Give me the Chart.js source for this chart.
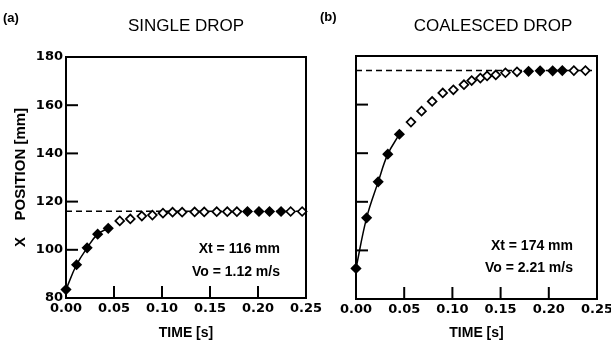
<!DOCTYPE html>
<html>
<head>
<meta charset="utf-8">
<script src="https://cdn.jsdelivr.net/npm/chart.js@4.4.1/dist/chart.umd.min.js"></script>
<style>
  html, body { margin: 0; padding: 0; background: #fff; }
  body { width: 611px; height: 342px; position: relative; overflow: hidden; font-family: "Liberation Sans", Arial, sans-serif; color: #000; }
  .cv { position: absolute; top: 0; }
  .txt { position: absolute; white-space: nowrap; line-height: 1; }
  .panel { font-weight: bold; font-size: 13px; }
  .title { font-size: 17px; transform: translateX(-50%); }
  .note { font-weight: bold; font-size: 14px; text-align: right; }
</style>
</head>
<body>
<div class="cv" style="left:0;width:330px;height:342px;"><canvas id="cA"></canvas></div>
<div class="cv" style="left:312px;width:299px;height:342px;"><canvas id="cB"></canvas></div>

<div class="txt panel" style="left:3px;top:11px;">(a)</div>
<div class="txt title" style="left:186px;top:17px;">SINGLE DROP</div>
<div class="txt panel" style="left:320px;top:10px;">(b)</div>
<div class="txt title" style="left:493px;top:17px;">COALESCED DROP</div>

<div class="txt note" style="right:331px;top:241px;">Xt = 116 mm</div>
<div class="txt note" style="right:331px;top:264px;">Vo = 1.12 m/s</div>
<div class="txt note" style="right:38px;top:238px;">Xt = 174 mm</div>
<div class="txt note" style="right:38px;top:260px;">Vo = 2.21 m/s</div>

<script>
// ---- data ----
const xTicks = [0, 0.05, 0.10, 0.15, 0.20, 0.25];
const yTicks = [80, 100, 120, 140, 160, 180];

// (a) single drop
const timeA = [0, 0.011, 0.022, 0.033, 0.044, 0.056, 0.067, 0.079, 0.090, 0.101, 0.111, 0.121,
               0.134, 0.144, 0.157, 0.168, 0.178, 0.189, 0.201, 0.212, 0.224, 0.234, 0.246];
const posA  = [83.5, 93.8, 100.8, 106.5, 108.9, 112.0, 112.8, 114.0, 114.4, 115.2, 115.6, 115.6,
               115.7, 115.7, 115.8, 115.8, 115.8, 115.9, 115.9, 115.9, 115.9, 115.9, 115.9];
const xtA = 116;   // terminal position [mm]

// (b) coalesced drop
const timeB = [0, 0.011, 0.023, 0.033, 0.045, 0.057, 0.068, 0.079, 0.090, 0.101, 0.112, 0.120,
               0.129, 0.136, 0.145, 0.155, 0.167, 0.179, 0.191, 0.204, 0.214, 0.226, 0.238];
const posB  = [92.6, 113.4, 128.2, 139.6, 147.8, 152.8, 157.3, 161.3, 164.8, 166.1, 168.2, 169.9,
               170.9, 171.8, 172.2, 173.1, 173.5, 173.7, 173.9, 173.9, 174.0, 174.0, 174.0];
const xtB = 174;

// ---- styling helpers ----
const FILLED = (i) => (i <= 4) || (i >= 17 && i <= 20);
const FONT = '"Liberation Sans", Arial, sans-serif';
const TICKFONT = '"DejaVu Sans", "Liberation Sans", sans-serif';

const frame = {
  id: 'frame',
  afterDatasetsDraw(chart) {
    const { ctx, chartArea: a, scales } = chart;
    ctx.save();
    ctx.strokeStyle = '#000';
    ctx.lineWidth = 2;
    ctx.strokeRect(a.left, a.top, a.right - a.left, a.bottom - a.top);
    const len = 12;
    scales.y.ticks.forEach(t => {
      if (t.value <= scales.y.min || t.value >= scales.y.max) return;
      const py = scales.y.getPixelForValue(t.value);
      ctx.beginPath(); ctx.moveTo(a.left, py); ctx.lineTo(a.left + len, py); ctx.stroke();
    });
    scales.x.ticks.forEach(t => {
      if (t.value <= scales.x.min + 1e-9 || t.value >= scales.x.max - 1e-9) return;
      const px = scales.x.getPixelForValue(t.value);
      ctx.beginPath(); ctx.moveTo(px, a.bottom); ctx.lineTo(px, a.bottom - len); ctx.stroke();
    });
    ctx.restore();
  }
};

function makeChart(id, time, pos, xt, opts) {
  const pts = time.map((t, i) => ({ x: t, y: pos[i] }));
  const fitPts = pts.filter((p, i) => i <= 4);
  return new Chart(document.getElementById(id), {
    type: 'scatter',
    data: {
      datasets: [
        {
          data: pts,
          order: 0,
          pointStyle: 'rectRot',
          pointRadius: 4.4,
          pointBorderWidth: 1.7,
          pointBorderColor: '#000',
          pointBackgroundColor: ctx => FILLED(ctx.dataIndex) ? '#000' : '#fff',
          showLine: false,
          clip: false
        },
        {
          data: fitPts,
          order: 1,
          showLine: true,
          borderColor: '#000',
          borderWidth: 1.5,
          tension: 0.4,
          pointRadius: 0
        },
        {
          data: [{ x: xTicks[0], y: xt }, { x: xTicks[xTicks.length - 1], y: xt }],
          order: 2,
          showLine: true,
          borderColor: '#000',
          borderWidth: 1.5,
          borderDash: [6, 4],
          pointRadius: 0
        }
      ]
    },
    options: {
      responsive: false,
      animation: false,
      devicePixelRatio: 1,
      layout: { padding: opts.padding },
      plugins: { legend: { display: false }, tooltip: { enabled: false }, title: { display: false } },
      scales: {
        x: {
          type: 'linear',
          min: xTicks[0], max: xTicks[xTicks.length - 1],
          afterBuildTicks: s => { s.ticks = xTicks.map(v => ({ value: v })); },
          grid: { display: false, drawTicks: false },
          border: { display: false },
          ticks: {
            padding: 3,
            color: '#000',
            font: { family: TICKFONT, size: 13, weight: 'bold' },
            maxRotation: 0,
            autoSkip: false,
            callback: v => Number(v).toFixed(2)
          },
          title: {
            display: true, text: 'TIME [s]', color: '#000',
            font: { family: FONT, size: 14, weight: 'bold' }, padding: 0
          },
          afterFit: s => { s.height = opts.xh; s.paddingLeft = 0; s.paddingRight = 0; }
        },
        y: {
          type: 'linear',
          min: yTicks[0], max: yTicks[yTicks.length - 1],
          afterBuildTicks: s => { s.ticks = yTicks.map(v => ({ value: v })); },
          grid: { display: false, drawTicks: false },
          border: { display: false },
          ticks: {
            display: opts.yLabels,
            padding: 3,
            color: '#000',
            font: { family: TICKFONT, size: 13, weight: 'bold' }
          },
          title: {
            display: opts.yLabels, text: 'X    POSITION [mm]', color: '#000',
            font: { family: FONT, size: 15, weight: 'bold' }, padding: { top: 12, bottom: 0 }
          },
          afterFit: s => { s.width = opts.yw; s.paddingTop = 0; s.paddingBottom = 0; }
        }
      }
    },
    plugins: [frame]
  });
}

const cA = document.getElementById('cA'); cA.width = 330; cA.height = 342;
const cB = document.getElementById('cB'); cB.width = 299; cB.height = 342;

makeChart('cA', timeA, posA, xtA, { padding: { left: 0, top: 57, right: 24, bottom: 0 }, xh: 44, yw: 66, yLabels: true });
makeChart('cB', timeB, posB, xtB, { padding: { left: 0, top: 56, right: 14, bottom: 0 }, xh: 43, yw: 44, yLabels: false });
</script>
</body>
</html>
